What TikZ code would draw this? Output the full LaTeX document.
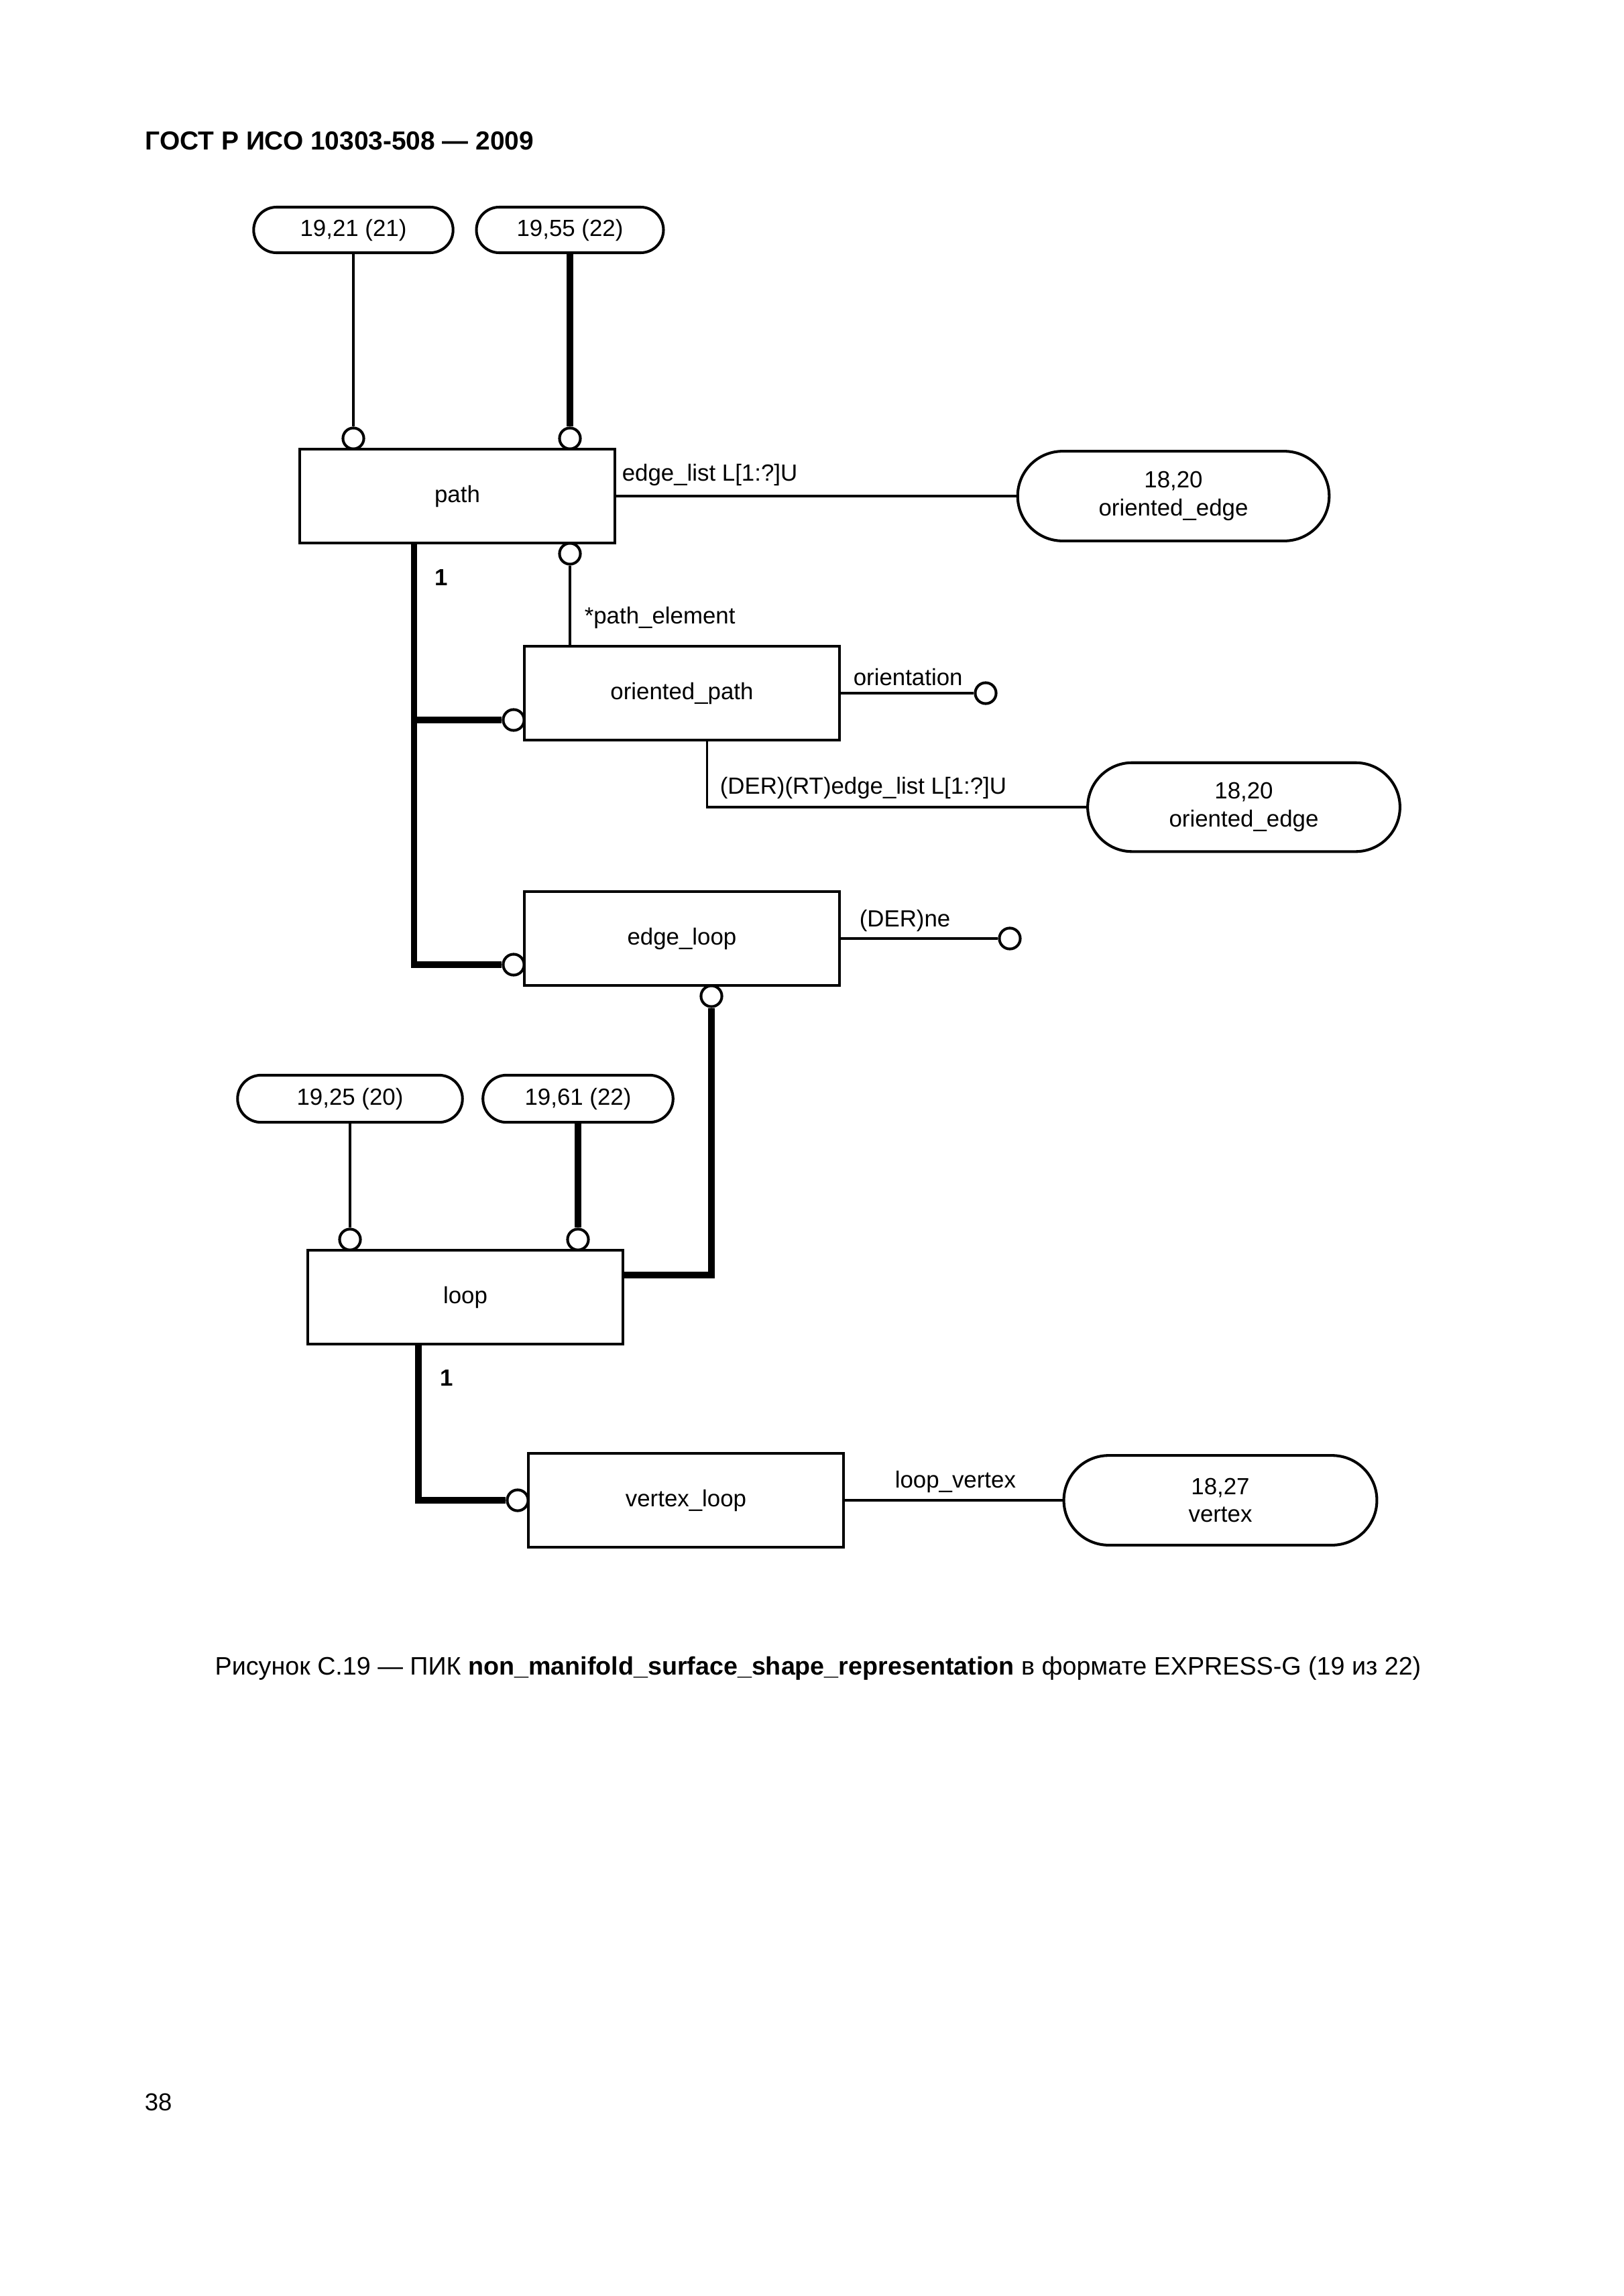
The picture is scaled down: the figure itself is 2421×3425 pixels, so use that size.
\documentclass[tikz,border=0pt]{standalone}
\usepackage{fontspec}
\setmainfont{Liberation Sans}
\usetikzlibrary{shapes.misc}
\tikzset{
	entity/.style = {draw, line width = 1pt, minimum width = 40.8mm, minimum height = 12.2mm, inner sep = 0pt, font = \fontsize{8.6}{10.3}\selectfont},
	ref/.style = {draw, rounded rectangle, line width = 1pt, inner sep = 0pt, align = center, font = \fontsize{8.6}{10.3}\selectfont},
	ring/.style = {draw, circle, line width = 1pt, fill = white, minimum size = 2.7mm, inner sep = 0pt},
	attr/.style = {anchor = base west, inner sep = 0pt, font = \fontsize{8.6}{10.3}\selectfont},
	thinln/.style = {line width = 0.8pt},
	fatln/.style = {line width = 2.3pt}
}
\begin{document}
\begin{tikzpicture}[x = 0.086741mm, y = -0.086741mm]
	\useasboundingbox (0, 0) rectangle (2421, 3425);
	\node[anchor = base west, inner sep = 0pt, font = \fontsize{9.6}{11}\selectfont\bfseries] (title) at (216, 223) {ГОСТ Р ИСО 10303-508 — 2009};
		\node[ref, minimum width = 25.8mm, minimum height = 5.9mm] (p2121) at (527, 343) {19,21 (21)};
		\node[ref, minimum width = 24.2mm, minimum height = 5.9mm] (p1955) at (850, 343) {19,55 (22)};
		\node[entity] (path) at (682, 740) {path};
		\node[ring] (cPa) at (527, 654) {};
		\node[ring] (cPb) at (850, 654) {};
		\node[ring] (cPc) at (850, 826) {};
		\node[ref, minimum width = 40.3mm, minimum height = 11.6mm] (oe1) at (1750, 740) {18,20\\oriented\_edge};
		\node[attr] (lEdge) at (927, 717) {edge\_list L[1:?]U};
		\node[attr] (lPathel) at (871, 930) {*path\_element};
		\node[attr, font = \fontsize{8.6}{10.3}\selectfont\bfseries] (lOneA) at (648, 873) {1};
	\node[entity] (opath) at (1017, 1034) {oriented\_path};
		\node[ring] (cOp) at (766, 1074) {};
		\node[ring] (cOr) at (1470, 1034) {};
		\node[attr] (lOrient) at (1272, 1022) {orientation};
		\node[attr] (lDerrt) at (1073, 1184) {(DER)(RT)edge\_list L[1:?]U};
		\node[ref, minimum width = 40.4mm, minimum height = 11.5mm] (oe2) at (1855, 1204) {18,20\\oriented\_edge};
	\node[entity] (eloop) at (1017, 1400) {edge\_loop};
		\node[ring] (cEl) at (766, 1439) {};
		\node[ring] (cEr) at (1506, 1400) {};
		\node[ring] (cEb) at (1061, 1486) {};
		\node[attr] (lDerne) at (1281, 1382) {(DER)ne};
	\node[ref, minimum width = 29.1mm, minimum height = 6.1mm] (p1925) at (522, 1639) {19,25 (20)};
	\node[ref, minimum width = 24.6mm, minimum height = 6.1mm] (p1961) at (862, 1639) {19,61 (22)};
		\node[entity] (loop) at (694, 1935) {loop};
		\node[ring] (cLa) at (522, 1849) {};
		\node[ring] (cLb) at (862, 1849) {};
		\node[attr, font = \fontsize{8.6}{10.3}\selectfont\bfseries] (lOneB) at (656, 2067) {1};
	\node[entity] (vloop) at (1023, 2238) {vertex\_loop};
		\node[ring] (cVl) at (772, 2238) {};
		\node[attr] (lLoopv) at (1334, 2219) {loop\_vertex};
		\node[ref, minimum width = 40.5mm, minimum height = 11.6mm] (vtx) at (1820, 2238) {18,27\\vertex};
	\node[anchor = base, inner sep = 0pt, font = \fontsize{9.3}{11}\selectfont] (caption) at (1220, 2498) {Рисунок С.19 — ПИК \textbf{non\_manifold\_surface\_shape\_representation} в формате EXPRESS-G (19 из 22)};
	\node[anchor = base west, inner sep = 0pt, font = \fontsize{9}{11}\selectfont] (pageno) at (215, 3148) {38};
		\draw[thinln] (p2121.south) -- (cPa.north);
		\draw[fatln] (p1955.south) -- (cPb.north);
		\draw[thinln] (path.east) -- (oe1.west);
		\draw[thinln] (cPc.south) -- (cPc.south |- opath.north);
		\coordinate (pathfoot) at ([xshift = 15mm]path.south west);
		\draw[fatln] (pathfoot) |- (cEl.west);
		\draw[fatln] (pathfoot |- cOp) -- (cOp.west);
		\draw[thinln] (opath.east) -- (cOr.west);
		\coordinate (opathfoot) at ([xshift = 23.8mm]opath.south west);
		\draw[thinln] (opathfoot) |- (oe2.west);
		\draw[thinln] (eloop.east) -- (cEr.west);
		\draw[fatln] (cEb.south) |- ([yshift = -3.4mm]loop.north east);
		\draw[thinln] (p1925.south) -- (cLa.north);
		\draw[fatln] (p1961.south) -- (cLb.north);
		\coordinate (loopfoot) at ([xshift = 14.5mm]loop.south west);
		\draw[fatln] (loopfoot) |- (cVl.west);
		\draw[thinln] (vloop.east) -- (vtx.west);
\end{tikzpicture}
\end{document}
